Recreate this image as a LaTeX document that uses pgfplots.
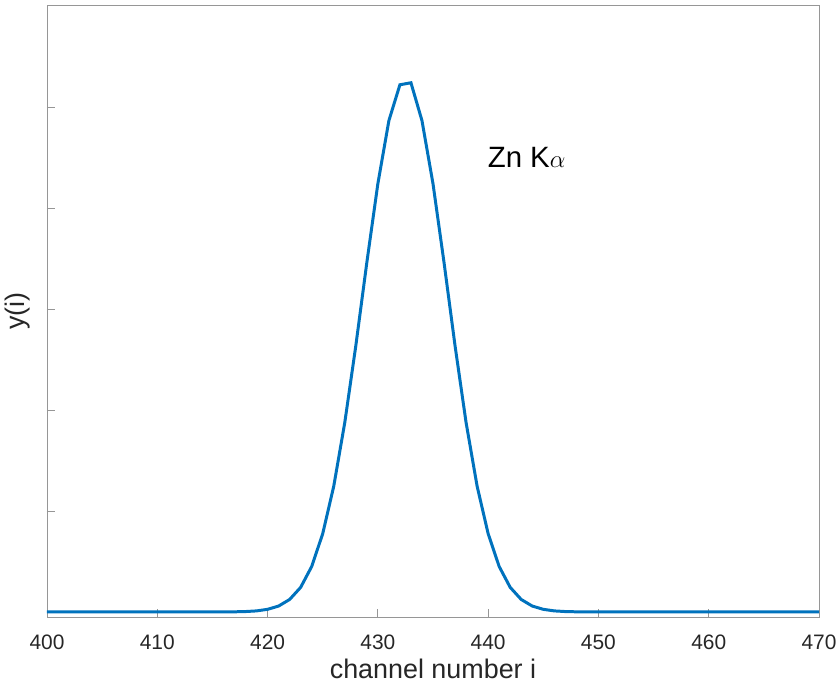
\documentclass[border=0pt]{standalone}
\usepackage{pgfplots}
\pgfplotsset{compat=1.18}
\usepackage{fontspec}
\setmainfont{Liberation Sans}
\definecolor{mblue}{RGB}{0,114,189}
\definecolor{axgray}{RGB}{150,150,150}
\definecolor{txt}{RGB}{38,38,38}
\begin{document}
\begin{tikzpicture}
\begin{axis}[
  name=ax,
  scale only axis,
  width=772bp, height=612bp,
  xmin=400, xmax=470, ymin=-0.01, ymax=1.202,
  xtick={400,410,...,470},
  ytick={0.2,0.4,0.6,0.8,1.0},
  yticklabels={},
  tick pos=left,
  tick align=inside,
  major tick length=8bp,
  axis line style={axgray, line width=0.8pt},
  every tick/.style={axgray, line width=0.8pt},
  tick label style={font=\fontsize{21}{24}\selectfont, text=txt},
  xticklabel style={yshift=-14bp},
  /pgf/number format/assume math mode=true,
  xlabel={channel number i},
  ylabel={y(i)},
  label style={font=\fontsize{27}{30}\selectfont, text=txt},
  xlabel style={yshift=-3bp},
  ylabel style={yshift=7bp},
  clip=false,
]
\addplot[mblue, line width=3pt] coordinates {
(400,0) (410,0) (415,0) (416,0.0001) (417,0.0003) (418,0.0008) (419,0.0021) (420,0.0052) (421,0.0117) (422,0.0247) (423,0.0487) (424,0.090) (425,0.155) (426,0.249) (427,0.375) (428,0.527) (429,0.692) (430,0.848) (431,0.973) (432,1.044)
(433,1.048) (434,0.973) (435,0.848) (436,0.692) (437,0.527) (438,0.375) (439,0.249) (440,0.155) (441,0.090) (442,0.0487) (443,0.0247) (444,0.0117) (445,0.0052) (446,0.0021) (447,0.0008) (448,0.0003) (449,0.0001) (450,0) (470,0)
};
\node[anchor=west, font=\fontsize{29.5}{32}\selectfont, text=black] at (axis cs:439.65,0.90) {Zn K$\alpha$};
\end{axis}
\pgfresetboundingbox
\path[use as bounding box] ([xshift=-47bp,yshift=-69bp]ax.south west) rectangle ([xshift=21bp,yshift=5bp]ax.north east);
\end{tikzpicture}
\end{document}
